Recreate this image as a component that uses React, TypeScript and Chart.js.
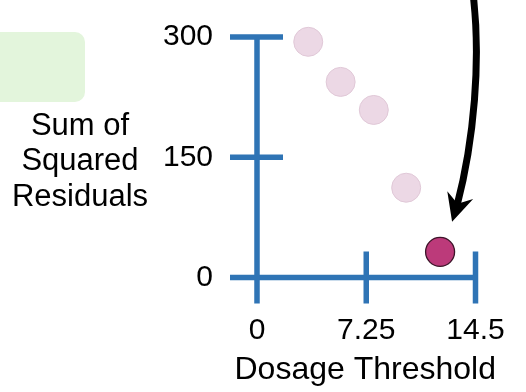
import React, { useEffect, useRef } from 'react';
import { Chart, registerables } from 'chart.js';

Chart.register(...registerables);

// ---- data ----
const thresholds = [3.4, 5.55, 7.75, 9.9, 12.15];
const ssr = [294, 244, 209, 112, 32];
const highlighted = [false, false, false, false, true];
const xTickValues = [0, 7.25, 14.5];
const xTickLabels = ['0', '7.25', '14.5'];
const yTickValues = [0, 150, 300];
const yTickLabels = ['0', '150', '300'];
const xTitle = 'Dosage Threshold';
const yTitleLines = ['Sum of', 'Squared', 'Residuals'];

// ---- style ----
const FONT = '"Liberation Sans", Arial, Helvetica, sans-serif';
const AXIS = '#2f74b5';
const AXIS_W = 5.5;
const LIGHT_FILL = '#ecd8e5';
const LIGHT_BORDER = '#e0c8d7';
const HI_FILL = '#bc3a7a';
const HI_BORDER = '#3d1429';

const zeroPadding = (s: any) => {
  s.paddingTop = 0;
  s.paddingBottom = 0;
  s.paddingLeft = 0;
  s.paddingRight = 0;
};

const decor = {
  id: 'decor',
  beforeDraw(chart: any) {
    const ctx = chart.ctx as CanvasRenderingContext2D;
    ctx.save();
    ctx.fillStyle = '#e3f5dc';
    ctx.beginPath();
    (ctx as any).roundRect(-20, 32, 105, 70, 10);
    ctx.fill();
    ctx.restore();
  },
  beforeDatasetsDraw(chart: any) {
    const { ctx, scales } = chart;
    const xs = scales.x;
    const ys = scales.y;
    const x0 = xs.getPixelForValue(xTickValues[0]);
    const xEnd = xs.getPixelForValue(xTickValues[xTickValues.length - 1]);
    const y0 = ys.getPixelForValue(yTickValues[0]);
    const yTop = ys.getPixelForValue(yTickValues[yTickValues.length - 1]);
    const tick = 26;
    ctx.save();
    ctx.strokeStyle = AXIS;
    ctx.lineWidth = AXIS_W;
    ctx.lineCap = 'butt';
    ctx.beginPath();
    ctx.moveTo(x0, yTop - AXIS_W / 2);
    ctx.lineTo(x0, y0 + tick);
    ctx.moveTo(x0 - tick - 1, y0);
    ctx.lineTo(xEnd + AXIS_W / 2, y0);
    for (const v of yTickValues) {
      const p = ys.getPixelForValue(v);
      ctx.moveTo(x0 - tick - 1, p);
      ctx.lineTo(x0 + tick, p);
    }
    for (const v of xTickValues) {
      const p = xs.getPixelForValue(v);
      ctx.moveTo(p, y0 - tick);
      ctx.lineTo(p, y0 + tick);
    }
    ctx.stroke();
    ctx.restore();
  },
  afterDatasetsDraw(chart: any) {
    const { ctx, scales, chartArea } = chart;
    const xs = scales.x;
    const ys = scales.y;
    ctx.save();
    ctx.fillStyle = '#000';
    ctx.textAlign = 'center';
    ctx.textBaseline = 'alphabetic';
    // y title (horizontal, three lines)
    ctx.font = `31px ${FONT}`;
    const midBase = ys.getPixelForValue(150) + 13.2;
    const cx = chartArea.left - 177;
    yTitleLines.forEach((t, i) => {
      ctx.fillText(t, cx, midBase + (i - 1) * 35.5);
    });
    // x title
    ctx.font = `32px ${FONT}`;
    ctx.fillText(xTitle, (chartArea.left + chartArea.right) / 2 - 1, chartArea.bottom + 101);
    ctx.restore();

    // arrow pointing at the highlighted point
    const hi = highlighted.indexOf(true);
    const px = xs.getPixelForValue(thresholds[hi]);
    const py = ys.getPixelForValue(ssr[hi]);
    const tipX = px + 12;
    const tipY = py - 30;
    let dx = -0.29, dy = 0.957;
    const dl = Math.hypot(dx, dy);
    dx /= dl; dy /= dl;
    const nx = dy, ny = -dx;
    const headLen = 28, halfW = 13.5, notch = 9;
    const endX = tipX - dx * (headLen - notch - 2);
    const endY = tipY - dy * (headLen - notch - 2);
    ctx.save();
    ctx.strokeStyle = '#000';
    ctx.fillStyle = '#000';
    ctx.lineWidth = 7;
    ctx.lineCap = 'butt';
    ctx.beginPath();
    ctx.moveTo(tipX + 21, -6);
    ctx.bezierCurveTo(tipX + 29, 60, tipX + 22, 140, endX, endY);
    ctx.stroke();
    const bx = tipX - dx * headLen, by = tipY - dy * headLen;
    ctx.beginPath();
    ctx.moveTo(tipX, tipY);
    ctx.lineTo(bx + nx * halfW, by + ny * halfW);
    ctx.lineTo(tipX - dx * (headLen - notch), tipY - dy * (headLen - notch));
    ctx.lineTo(bx - nx * halfW, by - ny * halfW);
    ctx.closePath();
    ctx.fill();
    ctx.restore();
  },
};

export default function App() {
  const ref = useRef<HTMLCanvasElement>(null);

  useEffect(() => {
    const canvas = ref.current;
    if (!canvas) return;
    const chart = new Chart(canvas, {
      type: 'scatter',
      data: {
        datasets: [
          {
            data: thresholds.map((x, i) => ({ x, y: ssr[i] })),
            backgroundColor: highlighted.map((h) => (h ? HI_FILL : LIGHT_FILL)),
            borderColor: highlighted.map((h) => (h ? HI_BORDER : LIGHT_BORDER)),
            borderWidth: highlighted.map((h) => (h ? 1.3 : 1)),
            pointRadius: 14.5,
            pointHoverRadius: 14.5,
            clip: false,
          },
        ],
      },
      options: {
        responsive: false,
        animation: false,
        events: [],
        layout: { padding: { left: 0, right: 50.5, top: 37, bottom: 0 } },
        plugins: {
          legend: { display: false },
          tooltip: { enabled: false },
        },
        scales: {
          x: {
            type: 'linear',
            min: xTickValues[0],
            max: xTickValues[xTickValues.length - 1],
            afterBuildTicks: (s: any) => {
              s.ticks = xTickValues.map((v) => ({ value: v }));
            },
            afterFit: (s: any) => {
              s.height = 114.5;
              zeroPadding(s);
            },
            ticks: {
              color: '#000',
              font: { family: FONT, size: 30 },
              padding: 35,
              maxRotation: 0,
              autoSkip: false,
              callback: (_v: any, i: number) => xTickLabels[i],
            },
            grid: { display: false, drawTicks: false },
            border: { display: false },
          },
          y: {
            type: 'linear',
            min: yTickValues[0],
            max: yTickValues[yTickValues.length - 1],
            afterBuildTicks: (s: any) => {
              s.ticks = yTickValues.map((v) => ({ value: v }));
            },
            afterFit: (s: any) => {
              s.width = 257;
              zeroPadding(s);
            },
            ticks: {
              color: '#000',
              font: { family: FONT, size: 30 },
              padding: 44,
              autoSkip: false,
              callback: (_v: any, i: number) => yTickLabels[i],
            },
            grid: { display: false, drawTicks: false },
            border: { display: false },
          },
        },
      },
      plugins: [decor],
    });
    return () => chart.destroy();
  }, []);

  return (
    <div style={{ position: 'fixed', left: 0, top: 0, width: 526, height: 392, background: '#fff' }}>
      <canvas ref={ref} width={526} height={392} style={{ display: 'block' }} />
    </div>
  );
}
